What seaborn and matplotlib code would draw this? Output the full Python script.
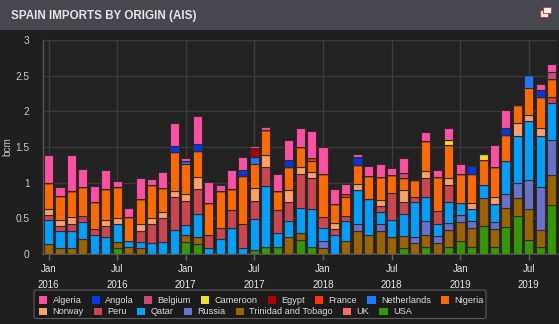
import numpy as np
import pandas as pd
import matplotlib
matplotlib.use("Agg")
import matplotlib.pyplot as plt
from matplotlib.patches import Rectangle, FancyBboxPatch, Patch
import seaborn as sns

# ---------------- data (bcm per month, Jan 2016 .. Sep 2019) ----------------
month_idx = list(range(45))
tick_pos = [0, 6, 12, 18, 24, 30, 36, 42]
tick_labels = ["Jan\n2016", "Jul\n2016", "Jan\n2017", "Jul\n2017",
               "Jan\n2018", "Jul\n2018", "Jan\n2019", "Jul\n2019"]

origins = ["Algeria", "Angola", "Belgium", "Cameroon", "Egypt", "France",
           "Netherlands", "Nigeria", "Norway", "Peru", "Qatar", "Russia",
           "Trinidad and Tobago", "UK", "USA"]
colors = ["#ff4fa3", "#0038e6", "#c64f7a", "#f5dc2a", "#b00000", "#ff3a00",
          "#1a7cff", "#ff6a00", "#ffa066", "#cc4650", "#00a0ff", "#6673cc",
          "#9a6400", "#ff6b6b", "#339900"]

algeria = [0.39, 0.127, 0.51, 0.254, 0.22, 0.268, 0.08, 0.122, 0.297, 0.085, 0.226, 0.32,
           0.042, 0.395, 0.29, 0.085, 0.27, 0.184, 0.042, 0.042, 0.226, 0.268, 0.268, 0.367,
           0.38, 0.21, 0.14, 0.042, 0.14, 0.18, 0.094, 0.21, 0, 0.118, 0.1, 0.17,
           0.137, 0, 0, 0.297, 0.254, 0, 0, 0.085, 0.113]
angola = [0, 0, 0, 0, 0, 0, 0, 0, 0, 0, 0, 0.09,
          0, 0.1, 0, 0, 0, 0.09, 0, 0, 0, 0.1, 0, 0,
          0, 0, 0, 0.1, 0, 0, 0, 0, 0, 0, 0, 0,
          0, 0.1, 0, 0, 0.1, 0, 0, 0.1, 0]
belgium = [0, 0, 0, 0, 0, 0, 0, 0, 0, 0, 0, 0,
           0, 0, 0, 0, 0, 0, 0, 0, 0, 0, 0, 0,
           0, 0, 0, 0, 0, 0, 0, 0.07, 0, 0, 0, 0,
           0, 0, 0, 0, 0, 0, 0, 0, 0.1]
cameroon = [0, 0, 0, 0, 0, 0, 0, 0, 0, 0, 0, 0,
            0, 0, 0, 0, 0, 0, 0, 0, 0, 0, 0, 0,
            0, 0, 0, 0, 0, 0, 0, 0, 0, 0, 0, 0.07,
            0, 0, 0.085, 0, 0, 0, 0, 0, 0]
egypt = [0, 0, 0, 0, 0, 0, 0, 0, 0, 0, 0, 0,
         0, 0, 0, 0, 0, 0, 0.118, 0, 0, 0, 0, 0,
         0, 0, 0, 0, 0, 0, 0, 0, 0, 0, 0, 0,
         0, 0, 0, 0, 0, 0, 0, 0, 0]
france = [0, 0, 0, 0, 0, 0, 0, 0, 0, 0, 0, 0,
          0, 0, 0, 0, 0, 0, 0, 0, 0, 0, 0, 0.042,
          0, 0, 0.042, 0, 0, 0, 0, 0, 0, 0, 0, 0,
          0, 0, 0, 0, 0, 0, 0, 0, 0]
netherlands = [0, 0, 0, 0, 0, 0, 0, 0, 0, 0, 0, 0,
               0.047, 0, 0, 0, 0, 0, 0.1, 0, 0, 0, 0, 0,
               0, 0, 0, 0, 0, 0, 0, 0, 0, 0, 0, 0,
               0, 0, 0, 0, 0, 0, 0.184, 0, 0]
nigeria = [0.367, 0.34, 0.367, 0.405, 0.386, 0.438, 0.438, 0.34, 0.353, 0.466, 0.344, 0.55,
           0.42, 0.353, 0.452, 0.52, 0.3, 0.67, 0.34, 0.358, 0.27, 0.325, 0.268, 0.16,
           0.607, 0.268, 0.268, 0.268, 0.325, 0.325, 0.254, 0.174, 0.235, 0.433, 0.48, 0.452,
           0.41, 0.41, 0.353, 0.424, 0.367, 0.254, 0.38, 0.438, 0.254]
norway = [0.085, 0.085, 0.094, 0, 0, 0.08, 0.085, 0, 0.1, 0.085, 0.085, 0.085,
          0.085, 0.17, 0, 0, 0, 0, 0.184, 0.165, 0, 0.17, 0.1, 0.085,
          0, 0.085, 0, 0.085, 0, 0.09, 0, 0.17, 0, 0.085, 0, 0.1,
          0, 0.085, 0, 0.1, 0, 0.17, 0.085, 0.1, 0]
peru = [0.075, 0.066, 0.1, 0.085, 0.08, 0.155, 0, 0, 0.155, 0.268, 0.334, 0.46,
        0.34, 0.353, 0.184, 0.155, 0.254, 0.34, 0.24, 0.268, 0.325, 0.268, 0.48, 0.433,
        0.155, 0.085, 0.07, 0, 0, 0.085, 0.386, 0.165, 0.07, 0.268, 0.184, 0.24,
        0, 0, 0, 0, 0, 0, 0, 0, 0.085]
qatar = [0.334, 0.24, 0.24, 0.24, 0.264, 0.235, 0.254, 0.085, 0.085, 0.15, 0.165, 0.334,
         0.15, 0.325, 0.08, 0.207, 0.36, 0.08, 0.447, 0.86, 0.2, 0.226, 0.353, 0.537,
         0.184, 0.264, 0.28, 0.48, 0.508, 0.165, 0.235, 0.31, 0.494, 0.34, 0.17, 0.297,
         0.17, 0.17, 0.184, 0.254, 0.452, 0.664, 0.82, 0.72, 0.508]
russia = [0, 0, 0, 0, 0, 0, 0, 0, 0, 0, 0, 0,
          0, 0, 0, 0, 0, 0, 0, 0, 0, 0, 0, 0,
          0.1, 0, 0, 0.1, 0, 0.1, 0, 0, 0.085, 0.2, 0.1, 0.1,
          0.1, 0.1, 0, 0.1, 0.2, 0.21, 0.41, 0.607, 0.494]
trinidad = [0.137, 0.08, 0.08, 0.207, 0, 0, 0.085, 0.094, 0.08, 0, 0, 0,
            0.09, 0.1, 0, 0, 0, 0, 0, 0, 0, 0.235, 0.1, 0,
            0.08, 0, 0.18, 0.32, 0.264, 0.32, 0.235, 0.17, 0.15, 0.17, 0.15, 0.24,
            0.268, 0.268, 0.395, 0.254, 0.268, 0.254, 0.438, 0.24, 0.424]
uk = [0, 0, 0, 0, 0, 0, 0, 0, 0, 0, 0, 0,
      0, 0, 0, 0, 0, 0, 0, 0, 0, 0, 0, 0,
      0, 0, 0, 0, 0, 0, 0, 0, 0, 0, 0, 0,
      0, 0, 0, 0, 0, 0, 0, 0, 0]
usa = [0, 0, 0, 0, 0, 0, 0.08, 0, 0, 0, 0, 0,
       0.17, 0.137, 0, 0, 0, 0, 0.05, 0.094, 0.094, 0, 0.193, 0.094,
       0, 0, 0, 0, 0, 0, 0, 0.08, 0, 0.094, 0, 0.094,
       0.18, 0.094, 0.39, 0.094, 0.377, 0.532, 0.193, 0.094, 0.687]

series = [algeria, angola, belgium, cameroon, egypt, france, netherlands, nigeria,
          norway, peru, qatar, russia, trinidad, uk, usa]

rows = []
for name, vals in zip(origins, series):
    for i, v in zip(month_idx, vals):
        rows.append({"month": i, "origin": name, "bcm": v})
df = pd.DataFrame(rows)

# ---------------- styling ----------------
BG = "#1f1f1f"
AX_BG = "#222222"
GRID = "#3a3a3a"

sns.set_theme(style="dark")
plt.rcParams["font.family"] = ["Liberation Sans", "DejaVu Sans"]

fig = plt.figure(figsize=(5.59, 3.24), dpi=100, facecolor=BG)

# title bar
fig.patches.append(Rectangle((0, 1 - 30 / 324), 1, 30 / 324, transform=fig.transFigure,
                             facecolor="#47484f", edgecolor="none", zorder=0))
fig.text(11 / 559, 1 - 16.5 / 324, "SPAIN IMPORTS BY ORIGIN (AIS)", color="#e4e4e4",
         fontsize=8.4, fontweight="bold", va="center", ha="left")
# small window icon at top right
fig.patches.append(Rectangle((540 / 559, 1 - 17 / 324), 8 / 559, 7 / 324, transform=fig.transFigure,
                             facecolor="#e8e8e8", edgecolor="#c03030", linewidth=0.6, zorder=2))
fig.patches.append(Rectangle((543 / 559, 1 - 13 / 324), 8 / 559, 6 / 324, transform=fig.transFigure,
                             facecolor="#f4f4f4", edgecolor="#c03030", linewidth=0.6, zorder=3))

ax = fig.add_axes([43.3 / 559, 1 - 254 / 324, (556.5 - 43.3) / 559, (254 - 40) / 324])
ax.set_facecolor(AX_BG)

sns.histplot(data=df, x="month", weights="bcm", hue="origin", hue_order=origins,
             palette=colors, multiple="stack", discrete=True, shrink=0.79,
             alpha=1, edgecolor="#35292f", linewidth=0.8, legend=False, ax=ax, zorder=3)

ax.set_xlim(-0.46, 44.42)
ax.set_ylim(0, 3)
ax.set_yticks([0, 0.5, 1, 1.5, 2, 2.5, 3])
ax.set_yticklabels(["0", "0.5", "1", "1.5", "2", "2.5", "3"])
ax.set_xticks(tick_pos)
ax.set_xticklabels(tick_labels, linespacing=1.75)
ax.grid(True, color=GRID, linewidth=1.0, zorder=0)
ax.set_axisbelow(True)
ax.tick_params(axis="y", length=0, pad=10, labelsize=7.3, labelcolor="#c8c8c8")
ax.tick_params(axis="x", length=4, width=1, color="#606060", pad=3, labelsize=7,
               labelcolor="#e6e6e6", bottom=True)
ax.set_xlabel("")
ax.set_ylabel("")
fig.text(7 / 559, 1 - 147 / 324, "bcm", color="#c8c8c8", fontsize=7.2,
         rotation=90, ha="center", va="center")
for s in ["top", "right"]:
    ax.spines[s].set_visible(False)
ax.spines["left"].set_color("#555555")
ax.spines["bottom"].set_color("#5a5a5a")
ax.spines["left"].set_linewidth(1)
ax.spines["bottom"].set_linewidth(1.2)

# legend (flow layout, two rows) inside a frame
fig.patches.append(FancyBboxPatch((34 / 559, 1 - 318.5 / 324), (486 - 34) / 559, (318.5 - 290) / 324,
                                  boxstyle="round,pad=0,rounding_size=0.005",
                                  transform=fig.transFigure, facecolor="#1b1b1b",
                                  edgecolor="#5a5a5a", linewidth=0.8, zorder=1))
cmap = dict(zip(origins, colors))
rows_leg = [origins[:8], origins[8:]]
ys = [300.7, 312.0]
for names, yy in zip(rows_leg, ys):
    handles = [Patch(facecolor=cmap[n], edgecolor="none") for n in names]
    leg = fig.legend(handles, names, loc="center left", ncol=len(names),
                     bbox_to_anchor=(39.3 / 559, 1 - yy / 324), frameon=False,
                     fontsize=6.6, handlelength=0.88, handleheight=0.88,
                     handletextpad=0.58, columnspacing=1.12, borderpad=0, borderaxespad=0)
    for t in leg.get_texts():
        t.set_color("#dcdcdc")
    leg.set_zorder(5)

fig.savefig("out.png", dpi=100, facecolor=BG)
